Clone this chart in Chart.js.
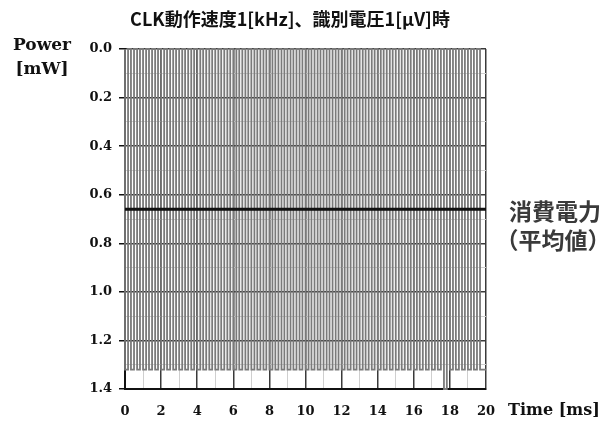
<!DOCTYPE html>
<html>
<head>
<meta charset="utf-8">
<script src="https://cdn.jsdelivr.net/npm/chart.js@4/dist/chart.umd.min.js"></script>
<style>
  html, body { margin: 0; padding: 0; background: #fff; }
  #wrap { width: 612px; height: 421px; position: relative; }
</style>
</head>
<body>
<div id="wrap"><canvas id="c" width="612" height="421"></canvas></div>
<script>
// ---- Data ----
const chartTitle = 'CLK動作速度1[kHz]、識別電圧1[μV]時';
const yAxisTitle = ['Power', '[mW]'];
const xAxisTitle = 'Time [ms]';
const avgLabel = ['消費電力', '（平均値）'];

// switching instants of the power waveform [ms]
const timeMs = [
  0, 0.17, 0.33, 0.5, 0.67, 0.83,
  1, 1.17, 1.33, 1.5, 1.67, 1.83,
  2, 2.17, 2.33, 2.5, 2.67, 2.83,
  3, 3.17, 3.33, 3.5, 3.67, 3.83,
  4, 4.17, 4.33, 4.5, 4.67, 4.83,
  5, 5.17, 5.33, 5.5, 5.67, 5.83,
  6, 6.17, 6.33, 6.5, 6.67, 6.83,
  7, 7.17, 7.33, 7.5, 7.67, 7.83,
  8, 8.17, 8.33, 8.5, 8.67, 8.83,
  9, 9.17, 9.33, 9.5, 9.67, 9.83,
  10, 10.17, 10.33, 10.5, 10.67, 10.83,
  11, 11.17, 11.33, 11.5, 11.67, 11.83,
  12, 12.17, 12.33, 12.5, 12.67, 12.83,
  13, 13.17, 13.33, 13.5, 13.67, 13.83,
  14, 14.17, 14.33, 14.5, 14.67, 14.83,
  15, 15.17, 15.33, 15.5, 15.67, 15.83,
  16, 16.17, 16.33, 16.5, 16.67, 16.83,
  17, 17.17, 17.33, 17.5, 17.67, 17.83,
  18, 18.17, 18.33, 18.5, 18.67, 18.83,
  19, 19.17, 19.33, 19.5, 19.67, 19.83,
  20
];
// power level held from each instant until the next [mW]
const powerMw = [
  0, 1.32, 0, 1.32, 0, 1.32,
  0, 1.32, 0, 1.32, 0, 1.32,
  0, 1.32, 0, 1.32, 0, 1.32,
  0, 1.32, 0, 1.32, 0, 1.32,
  0, 1.32, 0, 1.32, 0, 1.32,
  0, 1.32, 0, 1.32, 0, 1.32,
  0, 1.32, 0, 1.32, 0, 1.32,
  0, 1.32, 0, 1.32, 0, 1.32,
  0, 1.32, 0, 1.32, 0, 1.32,
  0, 1.32, 0, 1.32, 0, 1.32,
  0, 1.32, 0, 1.32, 0, 1.32,
  0, 1.32, 0, 1.32, 0, 1.32,
  0, 1.32, 0, 1.32, 0, 1.32,
  0, 1.32, 0, 1.32, 0, 1.32,
  0, 1.32, 0, 1.32, 0, 1.32,
  0, 1.32, 0, 1.32, 0, 1.32,
  0, 1.32, 0, 1.32, 0, 1.32,
  0, 1.32, 0, 1.32, 0, 1.40,
  0, 1.32, 0, 1.32, 0, 1.32,
  0, 1.32, 0, 1.32, 0, 1.32,
  1.32
];
const avgTimeMs = [0, 20];
const avgPowerMw = [0.66, 0.66];

const xTickLabels = ['0', '', '2', '', '4', '', '6', '', '8', '', '10', '', '12', '', '14', '', '16', '', '18', '', '20'];
const yTickLabels = ['0.0', '', '0.2', '', '0.4', '', '0.6', '', '0.8', '', '1.0', '', '1.2', '', '1.4'];

// ---- Chart ----
const isMajorY = v => Math.round(v * 10) % 2 === 0;
const isMajorX = v => Math.round(v) % 2 === 0;

const textPlugin = {
  id: 'texts',
  afterDraw(chart) {
    const ctx = chart.ctx;
    ctx.save();
    ctx.textBaseline = 'middle';
    ctx.fillStyle = '#111';
    ctx.textAlign = 'center';
    ctx.font = 'bold 18px "Noto Sans CJK JP"';
    ctx.fillText(chartTitle, 290, 19);

    ctx.font = 'bold 17px "DejaVu Serif"';
    ctx.fillText(yAxisTitle[0], 42, 46);
    ctx.fillText(yAxisTitle[1], 42, 70);

    ctx.textAlign = 'left';
    ctx.font = 'bold 16px "DejaVu Serif"';
    ctx.fillText(xAxisTitle, 508, 411);

    ctx.textAlign = 'center';
    ctx.fillStyle = '#3a3a3a';
    ctx.font = 'bold 23px "Noto Sans CJK JP"';
    ctx.fillText(avgLabel[0], 555, 211);
    ctx.fillText(avgLabel[1], 553, 240);
    ctx.restore();
  }
};

new Chart(document.getElementById('c'), {
  type: 'line',
  data: {
    datasets: [
      {
        label: 'avg',
        data: avgTimeMs.map((t, i) => ({ x: t, y: avgPowerMw[i] })),
        borderColor: '#111',
        borderWidth: 3,
        pointRadius: 0,
        order: 0,
        clip: 4
      },
      {
        label: 'power',
        data: timeMs.map((t, i) => ({ x: t, y: powerMw[i] })),
        borderColor: '#7a7a7a',
        borderWidth: 1.8,
        pointRadius: 0,
        stepped: 'after',
        order: 1,
        clip: 4
      }
    ]
  },
  options: {
    responsive: false,
    animation: false,
    devicePixelRatio: 1,
    layout: { padding: { top: 49, right: 126, left: 0, bottom: 0 } },
    plugins: { legend: { display: false }, tooltip: { enabled: false }, title: { display: false } },
    scales: {
      x: {
        type: 'linear',
        min: 0, max: 20,
        afterFit: s => { s.height = 32; },
        ticks: {
          stepSize: 1,
          autoSkip: false,
          maxRotation: 0,
          padding: 15,
          color: '#111',
          font: { family: 'DejaVu Serif', weight: 'bold', size: 13 },
          callback: (v) => xTickLabels[Math.round(v)] ?? ''
        },
        grid: {
          drawTicks: false,
          color: c => isMajorX(c.tick.value) ? '#3a3a3a' : '#cfcfcf',
          lineWidth: c => isMajorX(c.tick.value) ? 1.5 : 1
        },
        border: { color: '#111', width: 2 }
      },
      y: {
        type: 'linear',
        reverse: true,
        min: 0, max: 1.4,
        afterFit: s => { s.width = 125; },
        ticks: {
          stepSize: 0.1,
          autoSkip: false,
          padding: 7,
          color: '#111',
          font: { family: 'DejaVu Serif', weight: 'bold', size: 13 },
          callback: (v) => yTickLabels[Math.round(v * 10)] ?? ''
        },
        grid: {
          tickLength: 6,
          color: c => isMajorY(c.tick.value) ? '#3a3a3a' : '#cfcfcf',
          tickColor: c => isMajorY(c.tick.value) ? '#111' : 'rgba(0,0,0,0)',
          lineWidth: c => isMajorY(c.tick.value) ? 1.5 : 1
        },
        border: { color: '#111', width: 2 }
      }
    }
  },
  plugins: [textPlugin]
});
</script>
</body>
</html>
